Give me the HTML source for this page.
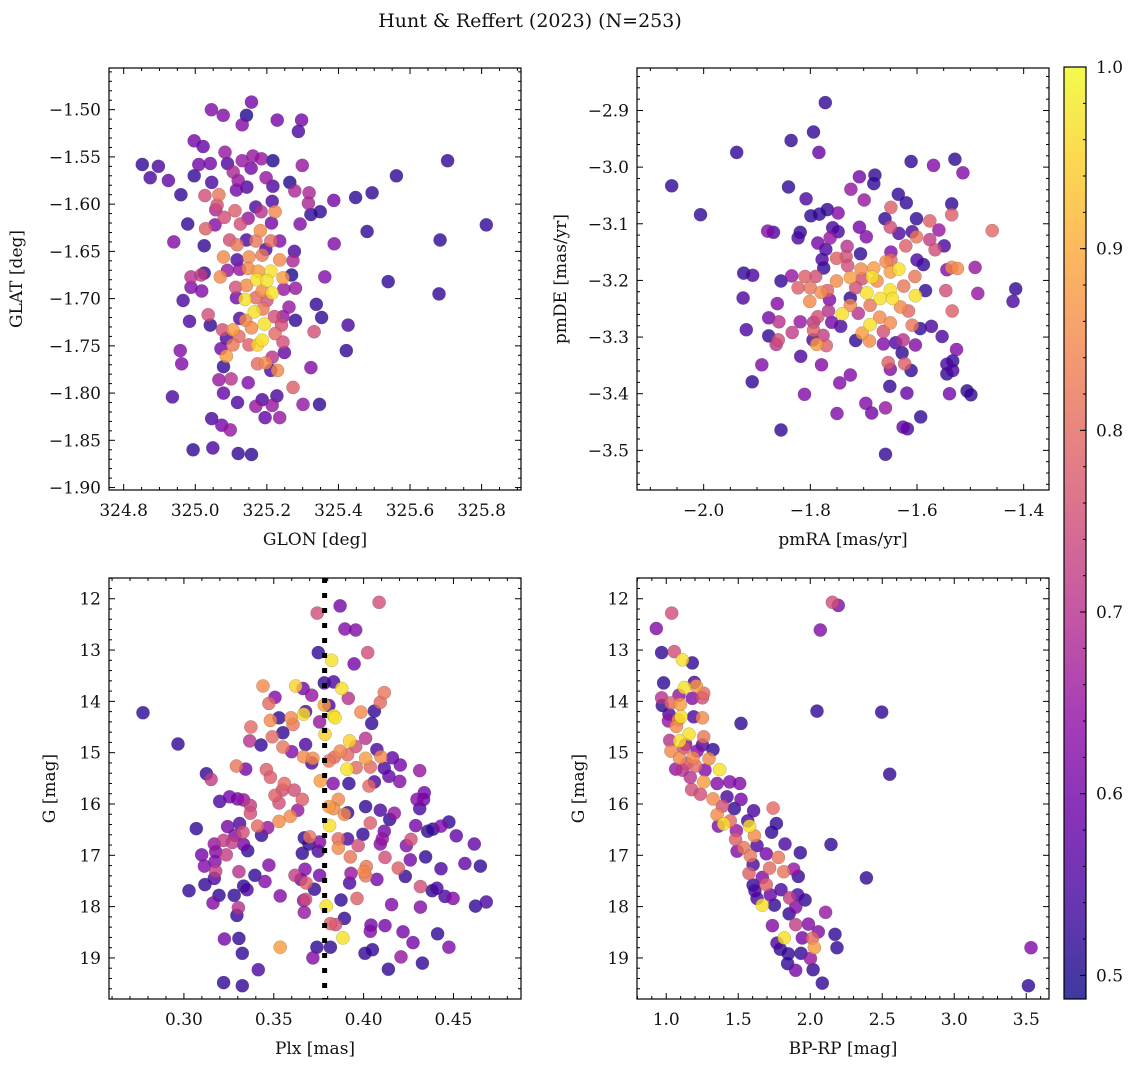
<!DOCTYPE html>
<html><head><meta charset="utf-8"><style>
html,body{margin:0;padding:0;background:#fff;}
svg{display:block;font-family:"DejaVu Serif","Liberation Serif",serif;}
</style></head><body>
<svg id="fig" width="1136" height="1067" viewBox="0 0 1136 1067" xmlns="http://www.w3.org/2000/svg">
<defs>
<linearGradient id="plasmaGrad" x1="0" y1="1" x2="0" y2="0"></linearGradient>
</defs>
<text x="530" y="27" font-size="19" text-anchor="middle" fill="#111">Hunt &amp; Reffert (2023) (N=253)</text>
</svg>
<script>
// ---------- Panel 1: GLON vs GLAT ----------
const p1Glon = [325.157,325.045,325.078,325.143,325.131,325.229,325.297,325.288,324.997,325.022,324.852,324.897,324.874,324.925,324.997,325.010,325.042,325.083,325.090,325.131,325.161,325.185,325.217,325.299,325.156,325.106,325.120,325.046,325.144,325.115,325.198,325.217,325.264,325.278,325.318,325.316,325.323,325.349,325.387,325.448,325.494,325.562,325.705,324.960,325.027,325.066,325.061,325.057,325.081,325.111,325.169,325.184,325.215,325.223,325.148,325.126,324.979,325.029,325.055,325.182,325.213,325.293,325.480,324.940,325.025,325.096,325.117,325.143,325.169,325.211,325.236,325.388,325.684,325.813,325.079,325.117,325.150,325.197,325.187,325.236,325.277,325.273,325.025,325.070,325.090,324.988,325.016,325.124,325.148,325.176,325.211,325.245,325.269,325.362,325.539,325.681,324.988,325.018,325.113,325.143,325.172,325.200,325.187,325.215,325.247,325.280,324.966,325.115,325.139,325.169,325.200,325.262,325.338,325.036,325.165,325.189,325.221,325.245,325.124,325.141,324.984,325.042,325.280,325.353,325.193,325.241,325.076,325.105,325.157,325.223,325.332,325.427,325.087,325.122,325.187,325.245,325.105,325.150,325.174,325.072,324.958,325.422,325.249,325.087,325.215,324.962,325.174,325.197,325.079,325.211,325.230,325.323,325.066,325.100,325.148,325.273,324.936,325.079,325.118,325.187,325.228,325.169,325.215,325.301,325.347,325.195,325.236,325.046,325.074,325.098,324.994,325.049,325.120,325.157];
const p1Glat = [-1.492,-1.500,-1.506,-1.506,-1.516,-1.511,-1.511,-1.523,-1.533,-1.539,-1.558,-1.560,-1.572,-1.575,-1.570,-1.558,-1.557,-1.545,-1.557,-1.554,-1.549,-1.552,-1.554,-1.559,-1.562,-1.566,-1.575,-1.577,-1.582,-1.585,-1.572,-1.581,-1.577,-1.586,-1.588,-1.599,-1.611,-1.608,-1.596,-1.593,-1.588,-1.570,-1.554,-1.590,-1.591,-1.590,-1.601,-1.606,-1.614,-1.607,-1.603,-1.608,-1.597,-1.608,-1.615,-1.621,-1.621,-1.626,-1.622,-1.628,-1.620,-1.621,-1.629,-1.640,-1.644,-1.638,-1.643,-1.638,-1.639,-1.639,-1.639,-1.642,-1.638,-1.622,-1.656,-1.659,-1.656,-1.648,-1.654,-1.659,-1.650,-1.660,-1.673,-1.677,-1.670,-1.677,-1.675,-1.669,-1.668,-1.671,-1.671,-1.678,-1.675,-1.677,-1.682,-1.695,-1.688,-1.692,-1.688,-1.686,-1.680,-1.681,-1.692,-1.694,-1.690,-1.689,-1.702,-1.699,-1.701,-1.699,-1.702,-1.709,-1.706,-1.717,-1.714,-1.711,-1.719,-1.719,-1.721,-1.723,-1.724,-1.728,-1.723,-1.720,-1.727,-1.728,-1.733,-1.733,-1.731,-1.737,-1.735,-1.728,-1.742,-1.740,-1.744,-1.746,-1.749,-1.749,-1.749,-1.753,-1.755,-1.755,-1.757,-1.761,-1.762,-1.769,-1.769,-1.768,-1.772,-1.776,-1.776,-1.773,-1.786,-1.785,-1.789,-1.794,-1.804,-1.800,-1.810,-1.807,-1.803,-1.814,-1.813,-1.812,-1.812,-1.826,-1.826,-1.827,-1.834,-1.839,-1.860,-1.858,-1.864,-1.865];
const p1Prob = [.6,.62,.62,.5,.62,.6,.6,.55,.6,.58,.52,.55,.55,.58,.52,.6,.6,.65,.55,.65,.65,.65,.5,.65,.6,.68,.65,.55,.55,.6,.65,.55,.5,.68,.68,.68,.52,.52,.6,.52,.52,.52,.52,.52,.75,.82,.75,.68,.75,.78,.55,.7,.55,.85,.65,.75,.52,.78,.62,.85,.6,.62,.52,.62,.52,.75,.82,.55,.82,.8,.62,.62,.52,.52,.85,.55,.85,.55,.82,.85,.55,.68,.52,.85,.65,.7,.72,.65,.85,.88,.97,.88,.5,.62,.52,.52,.62,.62,.75,.85,.97,.97,.85,.97,.65,.65,.55,.6,.97,.8,.75,.65,.52,.75,.97,.82,.75,.65,.55,.85,.55,.52,.52,.52,.97,.75,.75,.88,.85,.8,.75,.55,.55,.8,.97,.75,.82,.78,.95,.6,.62,.52,.58,.88,.7,.62,.8,.85,.52,.55,.85,.62,.65,.7,.62,.78,.55,.58,.55,.55,.55,.65,.65,.65,.52,.58,.65,.55,.6,.65,.52,.55,.52,.52];

// ---------- Panel 2: pmRA vs pmDE ----------
const p2PmRA = [-1.772,-1.794,-1.836,-1.784,-1.938,-2.060,-2.006,-1.841,-1.808,-1.799,-1.783,-1.768,-1.748,-1.724,-1.708,-1.679,-1.681,-1.699,-1.635,-1.620,-1.649,-1.611,-1.569,-1.529,-1.514,-1.535,-1.535,-1.576,-1.601,-1.660,-1.650,-1.634,-1.708,-1.695,-1.758,-1.748,-1.880,-1.869,-1.819,-1.823,-1.763,-1.786,-1.771,-1.731,-1.706,-1.649,-1.609,-1.601,-1.621,-1.576,-1.559,-1.566,-1.549,-1.459,-1.778,-1.751,-1.733,-1.775,-1.730,-1.705,-1.681,-1.658,-1.649,-1.634,-1.650,-1.600,-1.588,-1.535,-1.524,-1.544,-1.491,-1.925,-1.908,-1.855,-1.835,-1.810,-1.790,-1.751,-1.725,-1.703,-1.684,-1.675,-1.604,-1.625,-1.823,-1.800,-1.780,-1.768,-1.715,-1.694,-1.650,-1.669,-1.646,-1.603,-1.584,-1.546,-1.486,-1.415,-1.420,-1.926,-1.862,-1.801,-1.764,-1.725,-1.725,-1.688,-1.631,-1.616,-1.534,-1.766,-1.740,-1.710,-1.786,-1.878,-1.859,-1.819,-1.794,-1.760,-1.743,-1.670,-1.650,-1.688,-1.609,-1.594,-1.573,-1.553,-1.920,-1.878,-1.860,-1.834,-1.864,-1.794,-1.776,-1.795,-1.788,-1.770,-1.715,-1.703,-1.689,-1.663,-1.663,-1.640,-1.626,-1.603,-1.526,-1.628,-1.818,-1.891,-1.779,-1.654,-1.650,-1.623,-1.611,-1.544,-1.533,-1.533,-1.544,-1.909,-1.725,-1.745,-1.651,-1.811,-1.619,-1.539,-1.506,-1.499,-1.696,-1.685,-1.659,-1.750,-1.593,-1.626,-1.618,-1.855,-1.659];
const p2PmDE = [-2.886,-2.938,-2.953,-2.974,-2.974,-3.033,-3.084,-3.035,-3.056,-3.086,-3.083,-3.075,-3.081,-3.039,-3.017,-3.014,-3.029,-3.058,-3.048,-3.063,-3.071,-2.990,-2.997,-2.986,-3.010,-3.065,-3.084,-3.095,-3.091,-3.091,-3.106,-3.117,-3.106,-3.123,-3.107,-3.114,-3.113,-3.115,-3.115,-3.125,-3.125,-3.134,-3.145,-3.140,-3.153,-3.150,-3.114,-3.123,-3.139,-3.128,-3.111,-3.146,-3.139,-3.112,-3.163,-3.161,-3.158,-3.178,-3.174,-3.180,-3.178,-3.167,-3.164,-3.180,-3.185,-3.164,-3.172,-3.177,-3.179,-3.181,-3.177,-3.187,-3.191,-3.201,-3.192,-3.193,-3.193,-3.201,-3.195,-3.197,-3.194,-3.201,-3.193,-3.210,-3.213,-3.213,-3.221,-3.218,-3.213,-3.222,-3.217,-3.232,-3.232,-3.227,-3.218,-3.218,-3.223,-3.215,-3.237,-3.231,-3.241,-3.237,-3.234,-3.231,-3.244,-3.244,-3.247,-3.254,-3.254,-3.254,-3.259,-3.258,-3.264,-3.266,-3.273,-3.273,-3.274,-3.274,-3.281,-3.265,-3.275,-3.278,-3.279,-3.285,-3.281,-3.299,-3.287,-3.298,-3.305,-3.292,-3.313,-3.288,-3.297,-3.305,-3.313,-3.315,-3.306,-3.293,-3.307,-3.290,-3.312,-3.310,-3.305,-3.314,-3.322,-3.328,-3.334,-3.349,-3.349,-3.345,-3.357,-3.347,-3.359,-3.348,-3.342,-3.359,-3.365,-3.379,-3.367,-3.381,-3.387,-3.401,-3.399,-3.400,-3.395,-3.402,-3.417,-3.434,-3.425,-3.435,-3.441,-3.459,-3.462,-3.464,-3.507];
const p2Prob = [.52,.52,.52,.58,.52,.52,.52,.52,.55,.52,.52,.52,.62,.65,.6,.52,.52,.65,.52,.52,.78,.52,.62,.52,.62,.52,.78,.78,.52,.52,.75,.55,.6,.62,.55,.55,.62,.55,.52,.55,.65,.6,.55,.7,.52,.62,.55,.82,.78,.72,.65,.75,.55,.8,.55,.78,.75,.52,.75,.85,.88,.85,.8,.97,.88,.55,.52,.85,.85,.62,.65,.52,.55,.52,.65,.78,.75,.85,.88,.75,.97,.85,.82,.82,.78,.82,.85,.78,.75,.97,.97,.97,.97,.97,.52,.75,.65,.52,.55,.55,.62,.85,.62,.52,.85,.82,.85,.8,.78,.7,.97,.7,.75,.6,.7,.65,.7,.6,.55,.85,.85,.97,.82,.52,.55,.55,.55,.52,.75,.72,.7,.78,.72,.55,.88,.78,.52,.88,.85,.75,.62,.55,.7,.62,.62,.52,.55,.62,.62,.78,.62,.78,.52,.55,.52,.55,.52,.52,.62,.62,.52,.62,.58,.6,.52,.52,.62,.6,.65,.62,.52,.58,.55,.52,.52];

// ---------- Panel 3: Plx vs G ----------
const p3Plx = [0.2772,0.2967,0.4086,0.3869,0.3742,0.3896,0.3956,0.4023,0.3748,0.3822,0.3947,0.3440,0.3622,0.3663,0.3781,0.3833,0.3878,0.3711,0.3507,0.3915,0.4115,0.4093,0.3473,0.3781,0.3807,0.4060,0.3985,0.3529,0.3481,0.3596,0.3666,0.3677,0.3833,0.3841,0.4045,0.3373,0.3607,0.3755,0.3785,0.3551,0.3492,0.3366,0.3429,0.3677,0.3922,0.4011,0.3956,0.3551,0.3600,0.3870,0.3911,0.4074,0.3666,0.3718,0.3807,0.3837,0.4011,0.4096,0.4160,0.3711,0.4204,0.3292,0.3344,0.3907,0.3959,0.4037,0.4115,0.4312,0.3125,0.3459,0.3481,0.3151,0.4141,0.4201,0.3759,0.3830,0.3918,0.4030,0.4060,0.3559,0.3548,0.3614,0.3507,0.3659,0.3199,0.3254,0.3299,0.3332,0.3370,0.3370,0.3529,0.3529,0.3592,0.3633,0.3807,0.3859,0.3833,0.3893,0.3911,0.4011,0.4093,0.4171,0.4145,0.4312,0.4297,0.4334,0.4338,0.3069,0.3243,0.3310,0.3410,0.3466,0.3432,0.3329,0.3284,0.3811,0.4037,0.3996,0.4115,0.4290,0.4357,0.4386,0.4431,0.4475,0.4516,0.4616,0.3169,0.3221,0.3269,0.3332,0.3355,0.3700,0.3670,0.3696,0.3755,0.3859,0.3911,0.3970,0.4104,0.4093,0.4264,0.4238,0.3859,0.3099,0.3177,0.3236,0.3659,0.3748,0.3926,0.4119,0.4260,0.4345,0.3114,0.3173,0.3473,0.4015,0.4193,0.4431,0.4564,0.4650,0.3177,0.3306,0.3395,0.3674,0.3755,0.3930,0.4003,0.4011,0.3618,0.3169,0.3117,0.3451,0.3651,0.3680,0.3922,0.4074,0.4232,0.3028,0.3332,0.3351,0.3726,0.4316,0.4382,0.4408,0.3195,0.3280,0.3536,0.3874,0.3963,0.4453,0.4498,0.3162,0.3666,0.3677,0.3792,0.4156,0.4316,0.4623,0.4683,0.3303,0.3670,0.3295,0.3893,0.3815,0.3844,0.4041,0.4119,0.4037,0.4219,0.4412,0.3225,0.3306,0.3885,0.4275,0.3536,0.3740,0.3815,0.4475,0.3325,0.4008,0.4049,0.3718,0.4208,0.4327,0.3414,0.4138,0.3221,0.3325];
const p3G = [14.22,14.83,12.07,12.14,12.28,12.59,12.61,13.05,13.05,13.20,13.27,13.70,13.70,13.75,13.64,13.62,13.75,13.88,13.92,13.94,13.83,14.02,14.04,14.07,14.08,14.19,14.21,14.32,14.37,14.32,14.25,14.20,14.28,14.32,14.43,14.50,14.45,14.40,14.64,14.61,14.69,14.77,14.85,14.84,14.77,14.72,14.88,14.89,14.98,14.97,15.04,14.94,15.08,15.11,15.16,15.09,15.11,15.08,15.10,15.20,15.24,15.26,15.32,15.32,15.29,15.28,15.30,15.35,15.41,15.33,15.48,15.52,15.46,15.56,15.55,15.60,15.60,15.65,15.57,15.60,15.73,15.73,15.83,15.91,15.95,15.86,15.90,15.92,16.03,16.18,15.98,16.34,16.24,16.12,16.05,15.91,16.09,16.20,16.17,16.05,16.12,16.18,16.30,16.09,15.91,15.91,15.78,16.48,16.44,16.38,16.43,16.46,16.61,16.55,16.61,16.42,16.37,16.59,16.53,16.42,16.53,16.49,16.43,16.35,16.62,16.78,16.78,16.71,16.75,16.79,16.91,16.64,16.66,16.78,16.74,16.68,16.68,16.81,16.68,16.78,16.69,16.81,16.86,16.99,16.93,16.99,16.96,16.92,17.03,17.04,17.09,17.03,17.21,17.12,17.19,17.22,17.25,17.26,17.16,17.21,17.31,17.32,17.39,17.27,17.39,17.35,17.32,17.40,17.39,17.45,17.57,17.51,17.47,17.54,17.54,17.47,17.41,17.69,17.60,17.67,17.66,17.61,17.69,17.64,17.78,17.78,17.79,17.87,17.84,17.80,17.84,17.93,17.88,17.86,17.99,17.96,18.01,17.99,17.91,18.02,18.11,18.17,18.23,18.33,18.35,18.36,18.37,18.48,18.49,18.53,18.63,18.62,18.61,18.70,18.79,18.79,18.79,18.79,18.91,18.91,18.84,19.00,18.98,19.10,19.23,19.22,19.48,19.54];
const p3Prob = [.52,.52,.75,.6,.75,.62,.62,.75,.52,.97,.6,.85,.95,.6,.52,.55,.97,.65,.62,.7,.82,.8,.8,.88,.55,.52,.85,.52,.85,.85,.97,.55,.97,.97,.52,.8,.82,.65,.95,.52,.8,.7,.52,.55,.95,.7,.75,.82,.62,.85,.8,.55,.85,.85,.82,.8,.88,.85,.58,.55,.6,.82,.6,.97,.8,.8,.55,.65,.52,.78,.78,.72,.58,.62,.88,.62,.52,.8,.55,.8,.75,.75,.78,.78,.55,.6,.6,.65,.72,.75,.75,.85,.85,.65,.88,.85,.85,.85,.52,.52,.55,.65,.52,.55,.62,.6,.6,.52,.6,.55,.8,.65,.52,.75,.62,.97,.78,.52,.6,.6,.52,.52,.62,.52,.58,.58,.65,.72,.72,.6,.52,.82,.52,.52,.62,.8,.55,.75,.65,.62,.75,.62,.85,.6,.62,.72,.52,.55,.82,.75,.6,.52,.62,.62,.62,.82,.78,.55,.58,.52,.72,.7,.52,.62,.6,.65,.85,.82,.72,.55,.52,.62,.6,.78,.55,.6,.52,.52,.52,.55,.52,.75,.52,.55,.52,.52,.62,.52,.78,.55,.62,.62,.62,.75,.97,.62,.62,.52,.55,.7,.65,.52,.52,.78,.75,.6,.6,.62,.6,.52,.6,.52,.97,.6,.88,.52,.52,.62,.52,.52,.52,.62,.65,.52,.55,.52,.52,.52];

// ---------- Panel 4: BP-RP vs G ----------
const p4BpRp = [0.931,1.038,2.154,2.195,2.070,0.968,1.056,1.112,1.181,0.982,1.195,1.126,1.209,1.260,0.968,1.089,1.181,1.251,0.973,1.033,1.098,1.019,1.103,1.084,1.191,1.251,1.015,1.519,2.047,2.496,2.552,1.070,1.158,1.260,1.024,1.093,1.135,1.251,1.325,1.033,1.121,1.214,1.093,1.186,1.297,1.144,1.371,1.066,1.112,1.204,1.269,1.167,1.260,1.353,1.441,1.510,1.177,1.237,1.325,1.422,1.519,1.390,1.473,1.607,1.742,1.353,1.445,1.566,1.765,1.579,1.362,1.399,1.487,1.732,1.612,1.482,1.538,1.630,1.825,2.144,1.492,1.584,1.695,1.779,1.931,1.603,1.718,1.816,1.885,1.575,1.667,1.917,2.390,1.603,1.695,1.797,1.616,1.723,1.630,1.667,1.751,1.857,1.913,1.964,1.899,1.853,2.107,1.737,1.899,1.987,2.056,2.172,1.820,1.945,2.015,1.769,1.792,2.029,2.186,1.848,1.936,2.001,1.843,1.899,2.020,2.084,3.533,3.515];
const p4G = [12.58,12.28,12.07,12.13,12.61,13.05,13.03,13.19,13.25,13.64,13.63,13.73,13.70,13.84,13.93,13.88,13.94,13.93,14.08,14.03,14.06,14.25,14.30,14.36,14.30,14.32,14.38,14.43,14.19,14.21,15.42,14.49,14.64,14.69,14.76,14.77,14.84,14.85,14.94,14.97,14.91,14.97,15.11,15.10,15.12,15.21,15.33,15.32,15.34,15.26,15.34,15.48,15.57,15.60,15.57,15.60,15.72,15.81,15.90,15.86,15.91,16.04,16.09,16.13,16.08,16.21,16.33,16.33,16.38,16.43,16.43,16.39,16.52,16.55,16.62,16.69,16.85,16.81,16.78,16.79,16.92,17.01,16.97,17.04,16.95,17.18,17.25,17.32,17.27,17.35,17.43,17.41,17.44,17.58,17.57,17.67,17.69,17.77,17.84,17.97,17.97,17.83,17.77,17.87,18.01,18.14,18.11,18.37,18.35,18.34,18.49,18.54,18.61,18.61,18.62,18.71,18.83,18.80,18.80,18.92,18.91,19.01,19.11,19.24,19.23,19.49,18.80,19.54];
const p4Prob = [.62,.75,.75,.62,.62,.52,.75,.97,.52,.52,.55,.97,.88,.8,.7,.65,.62,.75,.52,.8,.88,.55,.97,.85,.55,.85,.65,.52,.52,.52,.52,.85,.97,.82,.7,.97,.62,.55,.52,.85,.75,.62,.85,.85,.85,.75,.97,.65,.7,.8,.62,.7,.88,.62,.62,.62,.75,.75,.85,.55,.6,.75,.52,.55,.8,.85,.8,.55,.52,.97,.62,.97,.65,.52,.85,.78,.82,.55,.55,.52,.62,.82,.6,.82,.52,.55,.8,.82,.65,.78,.62,.52,.52,.52,.78,.55,.55,.58,.55,.97,.52,.72,.55,.52,.62,.52,.65,.62,.72,.62,.62,.52,.97,.6,.8,.55,.52,.88,.52,.52,.52,.65,.52,.6,.52,.52,.62,.52];

// ---------- Colorbar ----------
const cbTicks = [0.5,0.6,0.7,0.8,0.9,1.0];
const cbMin = 0.487, cbMax = 1.0;

const plasmaStops = ["#0d0887","#41049d","#6a00a8","#8f0da4","#b12a90","#cc4778","#e16462","#f2844b","#fca636","#fcce25","#f0f921"];
function hexToRgb(h){return [parseInt(h.slice(1,3),16),parseInt(h.slice(3,5),16),parseInt(h.slice(5,7),16)];}
function plasma(t){
  t=Math.max(0,Math.min(1,t));
  const s=t*10, i=Math.min(9,Math.floor(s)), f=s-i;
  const a=hexToRgb(plasmaStops[i]), b=hexToRgb(plasmaStops[i+1]);
  return "rgb("+a.map((v,k)=>Math.round(v+(b[k]-v)*f)).join(",")+")";
}
const NS="http://www.w3.org/2000/svg";
const svg=document.getElementById("fig");
function mk(tag,attrs,parent){const e=document.createElementNS(NS,tag);for(const k in attrs)e.setAttribute(k,attrs[k]);(parent||svg).appendChild(e);return e;}
function fmt(v,d){const s=Math.abs(v).toFixed(d);return (v<0?"\u2212":"")+s;}

const grad=document.getElementById("plasmaGrad");
plasmaStops.forEach((c,i)=>{mk("stop",{offset:(i/10*100)+"%","stop-color":c},grad);});

const FS=17;
const panels=[
 {name:"glon-glat",box:[109,68,521,490],xd:[324.759,325.910],yd:[-1.4559,-1.9026],xs:p1Glon,ys:p1Glat,cs:p1Prob,
  xMaj:0.2,xMin:0.05,xDec:1,yMaj:0.05,yMin:0.01,yDec:2,xlabel:"GLON [deg]",ylabel:"GLAT [deg]",ylx:22},
 {name:"pmra-pmde",box:[637,68,1049,490],xd:[-2.125,-1.3525],yd:[-2.825,-3.570],xs:p2PmRA,ys:p2PmDE,cs:p2Prob,
  xMaj:0.2,xMin:0.05,xDec:1,yMaj:0.1,yMin:0.02,yDec:1,xlabel:"pmRA [mas/yr]",ylabel:"pmDE [mas/yr]",ylx:566},
 {name:"plx-g",box:[109,578,521,999],xd:[0.2583,0.4876],yd:[11.596,19.80],xs:p3Plx,ys:p3G,cs:p3Prob,
  xMaj:0.05,xMin:0.01,xDec:2,yMaj:1,yMin:0.2,yDec:0,xlabel:"Plx [mas]",ylabel:"G [mag]",ylx:55,vline:0.3783},
 {name:"bprp-g",box:[637,578,1049,999],xd:[0.797,3.658],yd:[11.596,19.80],xs:p4BpRp,ys:p4G,cs:p4Prob,
  xMaj:0.5,xMin:0.1,xDec:1,yMaj:1,yMin:0.2,yDec:0,xlabel:"BP-RP [mag]",ylabel:"G [mag]",ylx:584}
];

panels.forEach(p=>{
  const [L,T,R,B]=p.box;
  const sx=v=>L+(v-p.xd[0])/(p.xd[1]-p.xd[0])*(R-L);
  const sy=v=>T+(v-p.yd[0])/(p.yd[1]-p.yd[0])*(B-T);
  const g=mk("g",{});
  
  
  const clipId="clip-"+p.name;
  const cp=mk("clipPath",{id:clipId},g); mk("rect",{x:L,y:T,width:R-L,height:B-T},cp);
  const pts=mk("g",{"clip-path":"url(#"+clipId+")"},g);
  
  
  const idx=p.xs.map((_,i)=>i).sort((a,b)=>p.cs[a]-p.cs[b]);
  idx.forEach(i=>{
    const t=(p.cs[i]-cbMin)/(cbMax-cbMin);
    const c=mk("circle",{cx:sx(p.xs[i]).toFixed(1),cy:sy(p.ys[i]).toFixed(1),r:6.6,fill:plasma(t),"fill-opacity":0.8,stroke:"rgba(60,60,60,0.35)","stroke-width":0.5},pts);
    
    
  });
  if(p.vline!==undefined){
    const vl=mk("line",{x1:sx(p.vline),x2:sx(p.vline),y1:T,y2:B,stroke:"#000","stroke-width":5,"stroke-dasharray":"5,10"},g);
    
    
  }
  const tk=mk("g",{stroke:"#000","stroke-width":1},g);
  
  
  const lo=Math.min(p.xd[0],p.xd[1]),hi=Math.max(p.xd[0],p.xd[1]);
  for(let k=Math.ceil(lo/p.xMin-1e-6);k*p.xMin<=hi+1e-9;k++){
    const v=k*p.xMin, x=sx(v), maj=Math.abs(v/p.xMaj-Math.round(v/p.xMaj))<1e-4, len=maj?6:3;
    mk("line",{x1:x,x2:x,y1:B,y2:B-len},tk); mk("line",{x1:x,x2:x,y1:T,y2:T+len},tk);
    if(maj){const t=mk("text",{x:x,y:B+26,"font-size":FS,"text-anchor":"middle",fill:"#111",stroke:"none"},g);t.textContent=fmt(v,p.xDec);
      
      }
  }
  const ylo=Math.min(p.yd[0],p.yd[1]),yhi=Math.max(p.yd[0],p.yd[1]);
  for(let k=Math.ceil(ylo/p.yMin-1e-6);k*p.yMin<=yhi+1e-9;k++){
    const v=k*p.yMin, y=sy(v), maj=Math.abs(v/p.yMaj-Math.round(v/p.yMaj))<1e-4, len=maj?6:3;
    mk("line",{x1:L,x2:L+len,y1:y,y2:y},tk); mk("line",{x1:R,x2:R-len,y1:y,y2:y},tk);
    if(maj){const t=mk("text",{x:L-8,y:y+6,"font-size":FS,"text-anchor":"end",fill:"#111",stroke:"none"},g);t.textContent=fmt(v,p.yDec);
      
      }
  }
  const fr=mk("rect",{x:L,y:T,width:R-L,height:B-T,fill:"none",stroke:"#000","stroke-width":1.2},g);
  
  
  const xl=mk("text",{x:(L+R)/2,y:B+55,"font-size":FS,"text-anchor":"middle",fill:"#111"},g);xl.textContent=p.xlabel;
  
  
  const yl=mk("text",{x:p.ylx,y:(T+B)/2,"font-size":FS,"text-anchor":"middle",fill:"#111",transform:"rotate(-90 "+p.ylx+" "+((T+B)/2)+")"},g);yl.textContent=p.ylabel;
  
  
});

(function(){
  const L=1064,R=1086,T=67,B=999;
  const cy=v=>B-(v-cbMin)/(cbMax-cbMin)*(B-T);
  const g=mk("g",{});
  
  
  mk("rect",{x:L,y:T,width:R-L,height:B-T,fill:"url(#plasmaGrad)","fill-opacity":0.8},g);
  mk("rect",{x:L,y:T,width:R-L,height:B-T,fill:"none",stroke:"#000","stroke-width":1.2},g);
  for(let k=Math.ceil(cbMin/0.02-1e-6);k*0.02<=cbMax+1e-9;k++){
    const v=k*0.02, y=cy(v); mk("line",{x1:R,x2:R-3,y1:y,y2:y,stroke:"#000","stroke-width":1},g);
  }
  cbTicks.forEach(v=>{
    const y=cy(v);
    mk("line",{x1:R,x2:R-6,y1:y,y2:y,stroke:"#000","stroke-width":1},g);
    const t=mk("text",{x:R+10,y:y+6,"font-size":FS,fill:"#111"},g);t.textContent=v.toFixed(1);
    
    
  });
})();
</script>
</body></html>
